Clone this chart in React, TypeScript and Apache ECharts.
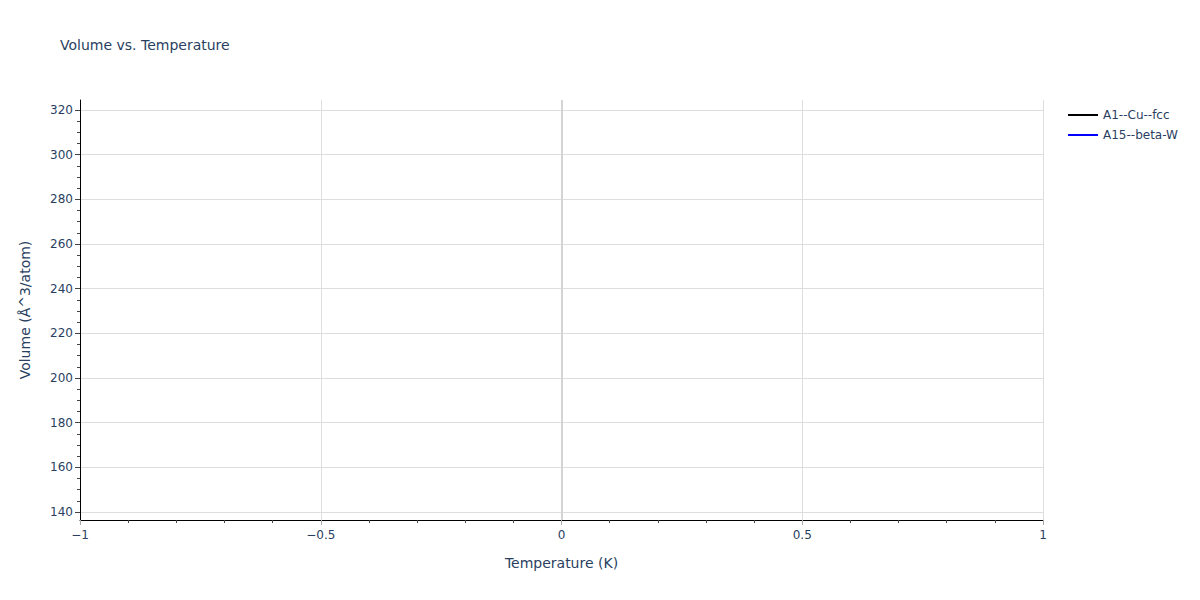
import React, { useEffect, useRef } from "react";
import * as echarts from "echarts";

const temperatures: number[] = [0];
const volumeA1: number[] = [316];
const volumeA15: number[] = [145];
const seriesNames: string[] = ["A1--Cu--fcc", "A15--beta-W"];
const seriesColors: string[] = ["#000000", "#0000ff"];
const yMajorTicks: number[] = [140, 160, 180, 200, 220, 240, 260, 280, 300, 320];
const yMinorTicks: number[] = [
  145, 150, 155, 165, 170, 175, 185, 190, 195, 205, 210, 215, 225, 230, 235,
  245, 250, 255, 265, 270, 275, 285, 290, 295, 305, 310, 315,
];
const yRange: number[] = [136.4, 324.5];
const xRange: number[] = [-1, 1];

const FONT = '"DejaVu Sans", Verdana, sans-serif';
const TXT = "#2a3f5f";

export default function App() {
  const ref = useRef<HTMLDivElement>(null);
  useEffect(() => {
    if (!ref.current) return;
    const chart = echarts.init(ref.current, undefined, { renderer: "svg" });
    const fmtX = (v: number) => (v < 0 ? "\u2212" + Math.abs(v) : String(v));
    chart.setOption({
      animation: false,
      backgroundColor: "#ffffff",
      textStyle: { fontFamily: FONT },
      title: {
        text: "Volume vs. Temperature",
        left: 60,
        top: 38,
        padding: 0,
        textStyle: { fontFamily: FONT, fontSize: 14, fontWeight: "normal", color: TXT },
      },
      legend: {
        orient: "vertical",
        left: 1068,
        top: 109,
        padding: 0,
        icon: "rect",
        itemWidth: 30,
        itemHeight: 2,
        itemGap: 8,
        textStyle: { fontFamily: FONT, fontSize: 12, color: TXT },
        data: seriesNames,
      },
      grid: { left: 80, right: 157, top: 100, bottom: 80, containLabel: false },
      xAxis: {
        type: "value",
        min: xRange[0],
        max: xRange[1],
        interval: 0.5,
        name: "Temperature (K)",
        nameLocation: "middle",
        nameGap: 36,
        nameTextStyle: { fontFamily: FONT, fontSize: 14, color: TXT },
        axisLine: { show: true, onZero: false, lineStyle: { color: "#000", width: 1 } },
        axisTick: { show: true, length: 5, lineStyle: { color: "#aaaaaa", width: 1 } },
        minorTick: { show: true, splitNumber: 5, length: 3, lineStyle: { color: "#444", width: 1 } },
        axisLabel: { formatter: fmtX, fontFamily: FONT, fontSize: 12, color: TXT, margin: 9 },
        splitLine: { show: true, lineStyle: { color: "#dedede", width: 1 } },
      },
      yAxis: [
        {
          type: "value",
          min: yRange[0],
          max: yRange[1],
          name: "Volume (Å^3/atom)",
          nameLocation: "middle",
          nameGap: 48,
          nameTextStyle: { fontFamily: FONT, fontSize: 14, color: TXT },
          axisLine: { show: true, onZero: false, lineStyle: { color: "#000", width: 1 } },
          axisTick: { show: true, length: 5, customValues: yMajorTicks, lineStyle: { color: "#444", width: 1 } },
          axisLabel: { customValues: yMajorTicks, fontFamily: FONT, fontSize: 12, color: TXT, margin: 7 },
          splitLine: { show: true, lineStyle: { color: "#dedede", width: 1 } },
        },
        {
          type: "value",
          min: yRange[0],
          max: yRange[1],
          position: "left",
          axisLine: { show: false, onZero: false },
          axisTick: { show: true, length: 3, customValues: yMinorTicks, lineStyle: { color: "#444", width: 1 } },
          axisLabel: { show: false },
          splitLine: { show: false },
        },
      ],
      series: [
        {
          name: seriesNames[0],
          type: "line",
          showSymbol: false,
          color: seriesColors[0],
          lineStyle: { color: seriesColors[0], width: 2 },
          data: temperatures.map((t, i) => [t, volumeA1[i]]),
          markLine: {
            silent: true,
            symbol: "none",
            label: { show: false },
            lineStyle: { color: "#d4d4d4", width: 2, type: "solid" },
            data: [{ xAxis: 0 }],
          },
        },
        {
          name: seriesNames[1],
          type: "line",
          showSymbol: false,
          color: seriesColors[1],
          lineStyle: { color: seriesColors[1], width: 2 },
          data: temperatures.map((t, i) => [t, volumeA15[i]]),
        },
      ],
    });
    return () => chart.dispose();
  }, []);
  return <div ref={ref} style={{ width: 1200, height: 600, position: "absolute", left: 0, top: 0 }} />;
}
